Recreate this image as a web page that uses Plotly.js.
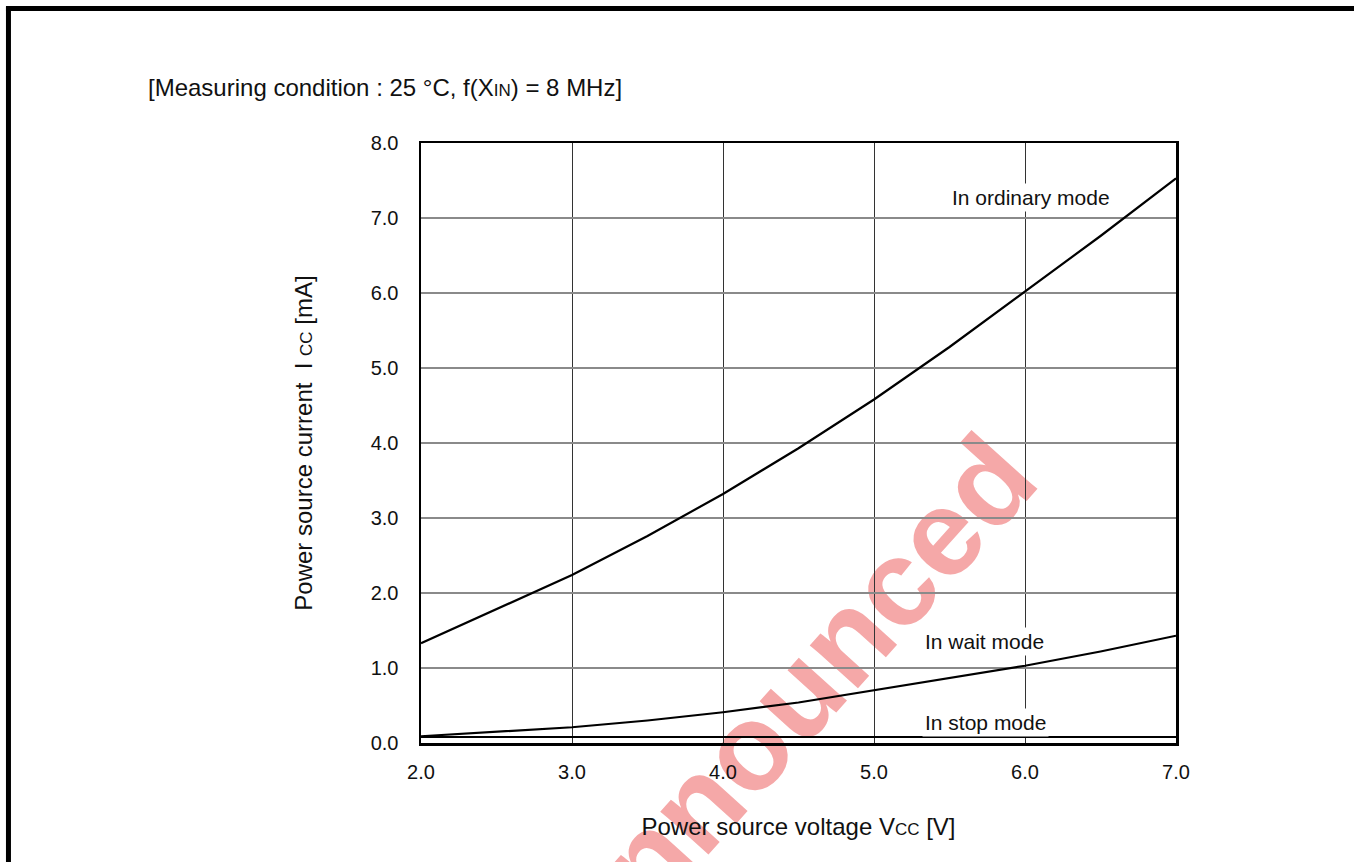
<!DOCTYPE html>
<html>
<head>
<meta charset="utf-8">
<script src="https://cdn.plot.ly/plotly-3.0.1.min.js"></script>
<style>
html, body { margin: 0; padding: 0; background: #fff; }
#chart { width: 1354px; height: 862px; }
</style>
</head>
<body>
<div id="chart"></div>
<script>
// Data
var voltage = [2.0, 2.5, 3.0, 3.5, 4.0, 4.5, 5.0, 5.5, 6.0, 6.5, 7.0];
var ordinaryMode = [1.33, 1.78, 2.24, 2.76, 3.32, 3.93, 4.58, 5.28, 6.02, 6.76, 7.53];
var waitMode = [0.09, 0.15, 0.21, 0.30, 0.41, 0.54, 0.70, 0.86, 1.03, 1.22, 1.43];
var stopMode = [0.08, 0.08, 0.08, 0.08, 0.08, 0.08, 0.08, 0.08, 0.08, 0.08, 0.08];
var seriesNames = ["In ordinary mode", "In wait mode", "In stop mode"];
var xTickVals = [2, 3, 4, 5, 6, 7];
var yTickVals = [0, 1, 2, 3, 4, 5, 6, 7, 8];

var FONT = "Arial, 'Liberation Sans', Helvetica, sans-serif";
var lineStyle = { color: "#000", width: 2.2 };

var traces = [
  { x: voltage, y: ordinaryMode, name: seriesNames[0], mode: "lines", line: lineStyle, hoverinfo: "x+y+name" },
  { x: voltage, y: waitMode, name: seriesNames[1], mode: "lines", line: lineStyle, hoverinfo: "x+y+name" },
  { x: voltage, y: stopMode, name: seriesNames[2], mode: "lines", line: lineStyle, hoverinfo: "x+y+name" }
];

var labelFont = { family: FONT, size: 21, color: "#111" };

var layout = {
  width: 1354,
  height: 862,
  margin: { l: 421, r: 178, t: 143, b: 119, pad: 0 },
  paper_bgcolor: "#fff",
  plot_bgcolor: "rgba(0,0,0,0)",
  showlegend: false,
  font: { family: FONT, size: 20, color: "#111" },
  title: {
    text: "[Measuring condition : 25 °C, f(X<span style=\"font-size:17px\">IN</span>) = 8 MHz]",
    xref: "container", yref: "container",
    x: 148 / 1354, xanchor: "left",
    y: 1 - 88 / 862, yanchor: "middle",
    font: { family: FONT, size: 24, color: "#111" }
  },
  xaxis: {
    range: [2, 7],
    tickvals: xTickVals,
    tickformat: ".1f",
    showline: true, mirror: true, linecolor: "#000", linewidth: 2.5,
    showgrid: true, gridcolor: "#333", gridwidth: 1,
    zeroline: false,
    ticks: "", ticklabelstandoff: 9,
    tickfont: { family: FONT, size: 20, color: "#111" },
    title: {
      text: "Power source voltage V<span style=\"font-size:17px\">CC</span> [V]",
      standoff: 37,
      font: { family: FONT, size: 24, color: "#111" }
    },
    fixedrange: true
  },
  yaxis: {
    range: [0, 8],
    tickvals: yTickVals,
    tickformat: ".1f",
    showline: true, mirror: true, linecolor: "#000", linewidth: 2.5,
    showgrid: true, gridcolor: "#8a8a8a", gridwidth: 1.3,
    zeroline: false,
    ticks: "", ticklabelstandoff: 16,
    tickfont: { family: FONT, size: 20, color: "#111" },
    title: {
      text: "Power source current  I <span style=\"font-size:17px\">CC</span> [mA]",
      standoff: 52,
      font: { family: FONT, size: 24, color: "#111" }
    },
    fixedrange: true
  },
  annotations: [
    { x: 6.04, y: 7.27, xref: "x", yref: "y", text: seriesNames[0], showarrow: false,
      font: labelFont, bgcolor: "#fff", borderpad: 2 },
    { x: 5.73, y: 1.355, xref: "x", yref: "y", text: seriesNames[1], showarrow: false,
      font: labelFont, bgcolor: "#fff", borderpad: 2 },
    { x: 5.74, y: 0.275, xref: "x", yref: "y", text: seriesNames[2], showarrow: false,
      font: labelFont, bgcolor: "#fff", borderpad: 2 }
  ],
  shapes: [
    // watermark (drawn below grid and data)
    {
      type: "rect", xref: "paper", yref: "paper",
      x0: 0.30, x1: 0.52, y0: -0.08, y1: 0.06,
      line: { width: 0 }, fillcolor: "rgba(0,0,0,0)", layer: "below",
      label: {
        text: "Unannounced", textangle: -48, textposition: "middle center",
        font: { family: FONT, size: 122, weight: "bold", color: "rgb(245,168,168)" }
      }
    },
    // outer frame of the figure (top and left edges)
    { type: "line", xref: "paper", yref: "paper", x0: -0.5464, x1: -0.5464, y0: -0.3, y1: 1.2275,
      line: { color: "#000", width: 5 } },
    { type: "line", xref: "paper", yref: "paper", x0: -0.5497, x1: 1.4, y0: 1.2242, y1: 1.2242,
      line: { color: "#000", width: 5 } }
  ]
};

Plotly.newPlot("chart", traces, layout, { displayModeBar: false, staticPlot: true });
</script>
</body>
</html>
